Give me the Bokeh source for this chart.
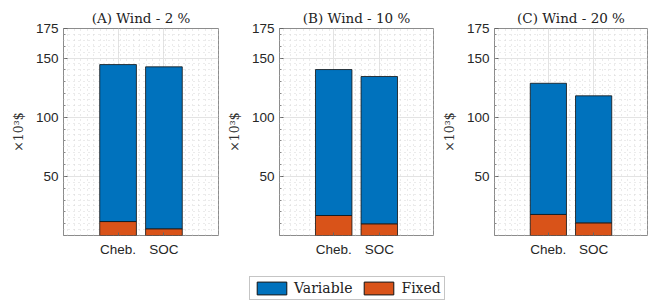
import numpy as np
from bokeh.plotting import figure
from bokeh.models import (ColumnDataSource, Range1d, FixedTicker, Legend, LegendItem)
from bokeh.layouts import column, row
from bokeh.embed import file_html
from bokeh.resources import INLINE

# ---- data ----
methods = ["Cheb.", "SOC"]
titles = ["(A) Wind - 2 %", "(B) Wind - 10 %", "(C) Wind - 20 %"]
fixed_A = [11.8, 5.7]
total_A = [144.5, 142.6]
fixed_B = [16.9, 9.9]
total_B = [140.3, 134.4]
fixed_C = [17.8, 10.7]
total_C = [128.7, 118.1]
y_ticks = [50, 100, 150, 175]
y_label = "×10³$"
legend_labels = ["Variable", "Fixed"]

BLUE = "#0072BD"
ORANGE = "#D95319"
SERIF = "DejaVu Serif"
SANS = "Liberation Sans"


def panel(title, fixed, total, width, left_border, right_border):
    xs = [1, 2]
    variable = [t - f for t, f in zip(total, fixed)]
    src = ColumnDataSource(dict(x=xs, fixed=fixed, variable=variable))
    p = figure(width=width, height=260, x_range=Range1d(-0.19, 3.19), y_range=Range1d(0, 175),
               output_backend="svg", toolbar_location=None,
               min_border_left=left_border, min_border_right=right_border,
               min_border_top=28, min_border_bottom=25)
    p.vbar_stack(["fixed", "variable"], x="x", width=0.8, color=[ORANGE, BLUE],
                 line_color="#111111", line_width=0.8, source=src)
    p.title.text = title
    p.title.align = "center"
    p.title.text_font = SERIF
    p.title.text_font_style = "normal"
    p.title.text_font_size = "13.5px"
    p.title.text_color = "#222222"
    p.title.standoff = 5
    p.outline_line_color = "#8c8c8c"
    p.outline_line_width = 1
    p.background_fill_color = "white"
    p.border_fill_color = "white"

    # y axis
    yax = p.yaxis[0]
    yax.ticker = FixedTicker(ticks=y_ticks, minor_ticks=list(range(0, 176, 10)))
    yax.axis_line_color = None
    yax.major_tick_in = 4
    yax.major_tick_out = 0
    yax.minor_tick_in = 2
    yax.minor_tick_out = 0
    yax.major_tick_line_color = "#666666"
    yax.minor_tick_line_color = "#888888"
    yax.major_label_text_font = SANS
    yax.major_label_text_font_size = "13.5px"
    yax.major_label_text_color = "#262626"
    yax.major_label_standoff = 5
    yax.axis_label = y_label
    yax.axis_label_text_font = SERIF
    yax.axis_label_text_font_style = "normal"
    yax.axis_label_text_font_size = "12.5px"
    yax.axis_label_text_color = "#333333"
    yax.axis_label_standoff = 7

    # x axis
    xax = p.xaxis[0]
    xax.ticker = FixedTicker(ticks=xs, minor_ticks=[])
    xax.major_label_overrides = {x: m for x, m in zip(xs, methods)}
    xax.axis_line_color = None
    xax.major_tick_in = 3
    xax.major_tick_out = 0
    xax.major_tick_line_color = "#666666"
    xax.minor_tick_line_color = None
    xax.major_label_text_font = SANS
    xax.major_label_text_font_size = "13.5px"
    xax.major_label_text_color = "#262626"
    xax.major_label_standoff = 6

    # grids
    p.ygrid.ticker = FixedTicker(ticks=y_ticks, minor_ticks=list(range(0, 176, 5)))
    p.ygrid.grid_line_color = "#e3e3e3"
    p.ygrid.minor_grid_line_color = "#d6d6d6"
    p.ygrid.minor_grid_line_dash = "1 4"
    p.xgrid.ticker = FixedTicker(ticks=xs, minor_ticks=list(np.arange(-1, 24) / 7.0 - 0.1))
    p.xgrid.grid_line_color = "#e3e3e3"
    p.xgrid.minor_grid_line_color = "#d6d6d6"
    p.xgrid.minor_grid_line_dash = "1 4"
    return p


pA = panel(titles[0], fixed_A, total_A, 223, 63, 5)
pB = panel(titles[1], fixed_B, total_B, 215, 55, 5)
pC = panel(titles[2], fixed_C, total_C, 221, 55, 12)

# legend figure (legend-only renderers, hidden)
lf = figure(width=659, height=41, x_range=Range1d(0, 1), y_range=Range1d(0, 1),
            output_backend="svg", toolbar_location=None,
            min_border=0, min_border_left=0, min_border_right=0,
            min_border_top=0, min_border_bottom=0)
lf.axis.visible = False
lf.grid.visible = False
lf.outline_line_color = None
src_leg = ColumnDataSource(dict(x=[1, 2], top=[total_A[0], fixed_A[0]]))
r_var = lf.vbar(x="x", top="top", width=0.5, color=BLUE, line_color="#111111", source=src_leg)
r_fix = lf.vbar(x="x", top="top", width=0.5, color=ORANGE, line_color="#111111", source=src_leg)
r_var.visible = False
r_fix.visible = False
leg = Legend(items=[LegendItem(label=legend_labels[0], renderers=[r_var]),
                    LegendItem(label=legend_labels[1], renderers=[r_fix])],
             orientation="horizontal", location=(249, 1),
             glyph_width=37, glyph_height=16, label_standoff=4, spacing=8,
             padding=3, margin=0,
             label_text_font=SERIF, label_text_font_size="14px", label_text_color="#222222",
             border_line_color="#8c8c8c", border_line_width=1,
             background_fill_color="white", background_fill_alpha=1.0)
lf.add_layout(leg)

layout = column(row(pA, pB, pC), lf)
open("out.html", "w").write(file_html(layout, INLINE))
